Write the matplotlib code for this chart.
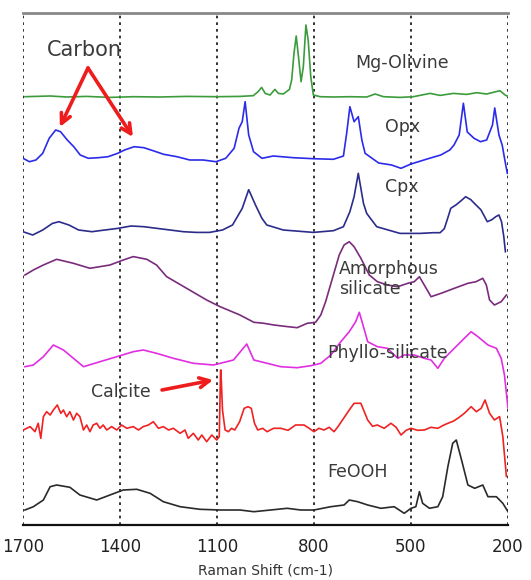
import matplotlib
matplotlib.use("Agg")
import matplotlib.pyplot as plt

# ---------------- data (Raman shift in cm-1, relative intensity) ----------------
olivine_x = [1694, 1616, 1565, 1503, 1431, 1359, 1276, 1194, 1101, 1029, 988, 973, 962, 951, 936, 921, 910, 895,
             876, 869, 862, 855, 848, 840, 833, 825, 818, 810, 802, 781, 740, 689, 637, 611, 585, 534, 493, 441,
             410, 369, 328, 297, 266, 225, 209, 199]
olivine_y = [0, 0.7, -0.3, 0.3, -0.7, 0, -0.3, 0.3, 0, 0.3, 1, 5, 9.3, 3.3, 1.7, 7.3, 3.3, 2.7,
             7.3, 16.7, 43, 60.7, 40, 15, 30, 71.7, 56.7, 20, 1.7, 0, -0.3, 0, -0.3, 2.7, 0, -0.7, 0, 3.3,
             1.3, 3.3, 2.3, 4, 2.7, 6, 1.7, 0]

opx_x = [1700, 1680, 1660, 1639, 1619, 1599, 1584, 1563, 1543, 1523, 1498, 1467, 1437, 1407, 1386, 1356, 1326,
         1295, 1265, 1224, 1184, 1143, 1103, 1073, 1047, 1032, 1022, 1013, 1002, 987, 961, 926, 864, 802, 740,
         709, 699, 689, 676, 663, 652, 642, 600, 560, 531, 500, 450, 408, 380, 367, 351, 338, 326, 305, 285,
         266, 248, 241, 228, 218, 207, 202]
opx_y = [1.7, -1.7, 0, 6.7, 21.7, 30, 28.3, 20, 13.3, 5, 1.7, 2.3, 3.3, 6.7, 10, 13.3, 12.3,
         9, 5.7, 3.3, 0, 0, -1.7, 1.7, 11.7, 31.7, 38.3, 58.3, 25, 8.3, 1.7, 4, 2.3, 1.3, 0.7,
         4, 26.7, 53.3, 38.3, 43.3, 20, 6.7, -3, -5, -8.3, -4, 1, 5, 10, 15, 25, 56.7, 28, 21.7, 18.3,
         20, 35, 52, 25, 15, -5, -13.3]

cpx_x = [1700, 1670, 1639, 1609, 1589, 1558, 1528, 1487, 1447, 1407, 1366, 1326, 1285, 1245, 1204, 1164, 1123,
         1083, 1052, 1022, 1002, 981, 961, 946, 895, 802, 740, 709, 689, 676, 663, 647, 637, 606, 534, 472,
         431, 410, 397, 385, 377, 360, 345, 331, 315, 300, 284, 274, 264, 250, 238, 228, 220, 213, 208]
cpx_y = [0, -3.3, 1.7, 8.3, 10, 6.7, 1.7, 0, 1.7, 3.3, 5.7, 5, 3.3, 1.7, 0, -0.7, -0.7,
         1.7, 6.7, 23.3, 42, 26.7, 13.3, 6.7, 1.7, -0.7, 1, 5, 20, 35, 58.4, 28.3, 18.3, 5, -1.7, -1.7,
         -1, -1, 3, 15, 23.4, 27, 31, 35, 32, 27, 22, 16, 10, 12, 15, 16.7, 10, -5, -20]

amorph_x = [1694, 1668, 1637, 1596, 1544, 1493, 1431, 1390, 1359, 1317, 1287, 1256, 1194, 1132, 1091, 1029, 986,
            955, 924, 883, 852, 821, 795, 779, 764, 743, 722, 707, 691, 676, 655, 629, 604, 573, 541, 510, 490,
            474, 459, 438, 407, 366, 324, 299, 278, 267, 257, 242, 221, 205]
amorph_y = [52.3, 57.3, 62.3, 68, 64, 59, 62.3, 67.3, 70.7, 68, 62.3, 50.7, 39, 27.3, 20.7, 12.3, 5,
            4, 2.3, 0.7, -0.4, 4, 5, 12.3, 25.7, 49, 72.3, 82.3, 85.6, 80.6, 69, 52.3, 45.6, 42.3, 40.6, 44,
            45.6, 50.6, 42.3, 30.6, 34, 39, 44, 45.6, 49, 42.3, 27.3, 22.3, 25.6, 32.3]

phyllo_x = [1694, 1668, 1637, 1606, 1575, 1544, 1513, 1462, 1410, 1359, 1328, 1287, 1235, 1173, 1111, 1049, 1008,
            986, 945, 903, 852, 810, 779, 748, 717, 691, 671, 660, 650, 634, 604, 573, 541, 521, 490, 459, 438,
            417, 397, 366, 335, 314, 293, 262, 236, 221, 211, 200]
phyllo_y = [-1.7, 0, 8.3, 20, 15, 6.7, -1.7, 3.3, 8.3, 13.3, 15, 11.7, 6.7, 1.7, 0, 5, 21,
            5, 1.7, -1.7, -2.7, -0.7, 1.7, 10, 23.3, 33.3, 43.3, 52.7, 41.7, 23.3, 18.3, 16.7, 6.7, 10, 10, 6.7, 5,
            -3.3, 6.7, 16.7, 26.7, 33.3, 28.3, 20, 16.7, 6.7, -10, -43]

calcite_x = [1699, 1678, 1663, 1653, 1645, 1637, 1627, 1616, 1606, 1594, 1583, 1575, 1565, 1555, 1544, 1534,
             1524, 1513, 1503, 1493, 1483, 1472, 1462, 1452, 1441, 1426, 1410, 1395, 1379, 1359, 1343, 1328,
             1312, 1297, 1281, 1266, 1250, 1235, 1214, 1199, 1189, 1173, 1158, 1147, 1132, 1116, 1101, 1093,
             1089, 1088, 1083, 1075, 1065, 1055, 1045, 1030, 1016, 1004, 994, 984, 974, 959, 945, 925, 903,
             880, 857, 831, 815, 800, 785, 769, 753, 738, 725, 712, 691, 676, 655, 634, 619, 604, 583, 562,
             546, 531, 515, 500, 480, 459, 438, 417, 400, 386, 370, 355, 335, 314, 298, 283, 271, 257, 242,
             226, 216, 205]
calcite_y = [-1.7, 1.7, -3.4, 5, -10, 11.6, 16.6, 13.3, 18.3, 23.3, 15, 18.3, 11.6, 16.6, 8.3, 15,
             11.6, -1.7, 3.3, -3.4, 3.3, 5, 0, 3.3, -1.7, 1.7, -1.7, 3.3, 0, 1.7, -1.7, 1.7,
             3.3, 6.6, 0, 1.7, -1.7, 0, -5, -1.7, -10, -5, -11.7, -6.7, -13.4, -6.7, -11.7, -8.4,
             58.3, 58.3, 18.3, -1.7, -3.4, 0, -1.7, 6.6, 20, 21.6, 20, 5, -1.7, 0, -3.4, 0, 0,
             -2, 3.3, 3.3, 0, -3.4, 0, -1.7, 1, -3.4, 2, 8.3, 18.3, 25, 25, 8.3, 2, 3.3, 0, 5,
             1, -6.7, -2, 0, -2, -1.7, 1, 0, 3, 5, 7, 10, 15, 21.6, 16.6, 20, 28.3, 15, 8.3,
             11.7, -8.3, -48]

feooh_x = [1694, 1668, 1637, 1616, 1596, 1555, 1524, 1472, 1431, 1390, 1348, 1307, 1266, 1214, 1153, 1091, 1029,
           986, 934, 883, 841, 800, 748, 707, 691, 665, 634, 593, 552, 521, 500, 485, 474, 464, 443, 417, 402,
           386, 371, 360, 345, 324, 303, 278, 262, 236, 216, 200]
feooh_y = [0, 3.3, 10, 23.3, 25, 22.7, 15, 10, 15, 20, 20.7, 16.7, 8.3, 3.3, 0.7, 0, 0,
           -1.7, 0, 1.7, 0, 0, 3.3, 5, 10, 8.3, 5, 1.7, 3.3, -3.3, 1.7, 3.3, 18.3, 6.7, 1.7, 3.3, 13.3,
           43.3, 66.7, 70, 51.7, 25, 21.7, 25, 13.3, 13.3, 6.7, -1.7]

names = ["Mg-Olivine", "Opx", "Cpx", "Amorphous\nsilicate", "Phyllo-silicate", "Calcite", "FeOOH"]
offsets = [483.3, 420, 348.3, 252.7, 215, 151.7, 70]
x_ticks = [1700, 1400, 1100, 800, 500, 200]

series = [(olivine_x, olivine_y), (opx_x, opx_y), (cpx_x, cpx_y), (amorph_x, amorph_y),
          (phyllo_x, phyllo_y), (calcite_x, calcite_y), (feooh_x, feooh_y)]
colors = ["#3c9c3c", "#2b2bea", "#2c2c8c", "#7a2c7c", "#e22ee2", "#f02222", "#2a2a2a"]

# ---------------- figure ----------------
W, H = 531, 580
fig = plt.figure(figsize=(W / 100, H / 100), dpi=100)
ax = fig.add_axes([23 / W, 1 - 525 / H, (508 - 23) / W, (525 - 13) / H])

for (xs, ys), off, c in zip(series, offsets, colors):
    ax.plot(xs, [v + off for v in ys], color=c, lw=1.2, zorder=3)

ax.set_xlim(1700, 200)
ax.set_ylim(55, 567)
ax.set_xticks(x_ticks)
ax.set_xticklabels([str(t) for t in x_ticks], fontsize=12, family="DejaVu Sans", color="#222222")
ax.tick_params(axis="x", length=0, pad=9)
ax.set_yticks([])
for xv in x_ticks:
    ax.axvline(xv, color="#111111", lw=1.2, ls=(0, (1.6, 2.4)), zorder=1)
ax.spines["left"].set_visible(False)
ax.spines["right"].set_visible(False)
ax.spines["top"].set_color("#888888")
ax.spines["top"].set_linewidth(2)
ax.spines["bottom"].set_color("#111111")
ax.spines["bottom"].set_linewidth(1.6)
fig.text(265.5 / W, 1 - 570 / H, "Raman Shift (cm-1)", ha="center", va="center",
         fontsize=10, family="DejaVu Sans", color="#333333")

tc = "#3a3a3a"
fam = "DejaVu Sans"
fs = 12.5
ax.text(529, 517, names[0], ha="center", va="center", fontsize=fs, color=tc, family=fam)
ax.text(525, 453, names[1], ha="center", va="center", fontsize=fs, color=tc, family=fam)
ax.text(528, 393, names[2], ha="center", va="center", fontsize=fs, color=tc, family=fam)
ax.text(722, 301, names[3], ha="left", va="center", fontsize=fs, color=tc, family=fam, linespacing=1.2)
ax.text(574, 227, names[4], ha="center", va="center", fontsize=fs, color=tc, family=fam)
ax.text(1397, 188, names[5], ha="center", va="center", fontsize=fs, color=tc, family=fam)
ax.text(667, 108, names[6], ha="center", va="center", fontsize=fs, color=tc, family=fam)
ax.text(1511, 530, "Carbon", ha="center", va="center", fontsize=15, color=tc, family=fam)

arrow = dict(arrowstyle="->,head_length=0.7,head_width=0.35", color="#ee1c1c", lw=2.6, shrinkA=0, shrinkB=0)
ax.annotate("", xy=(1586, 453), xytext=(1499, 512), arrowprops=arrow, zorder=5)
ax.annotate("", xy=(1360, 443), xytext=(1499, 512), arrowprops=arrow, zorder=5)
ax.annotate("", xy=(1112, 200), xytext=(1270, 190), arrowprops=arrow, zorder=5)

fig.savefig("out.png", dpi=100)
